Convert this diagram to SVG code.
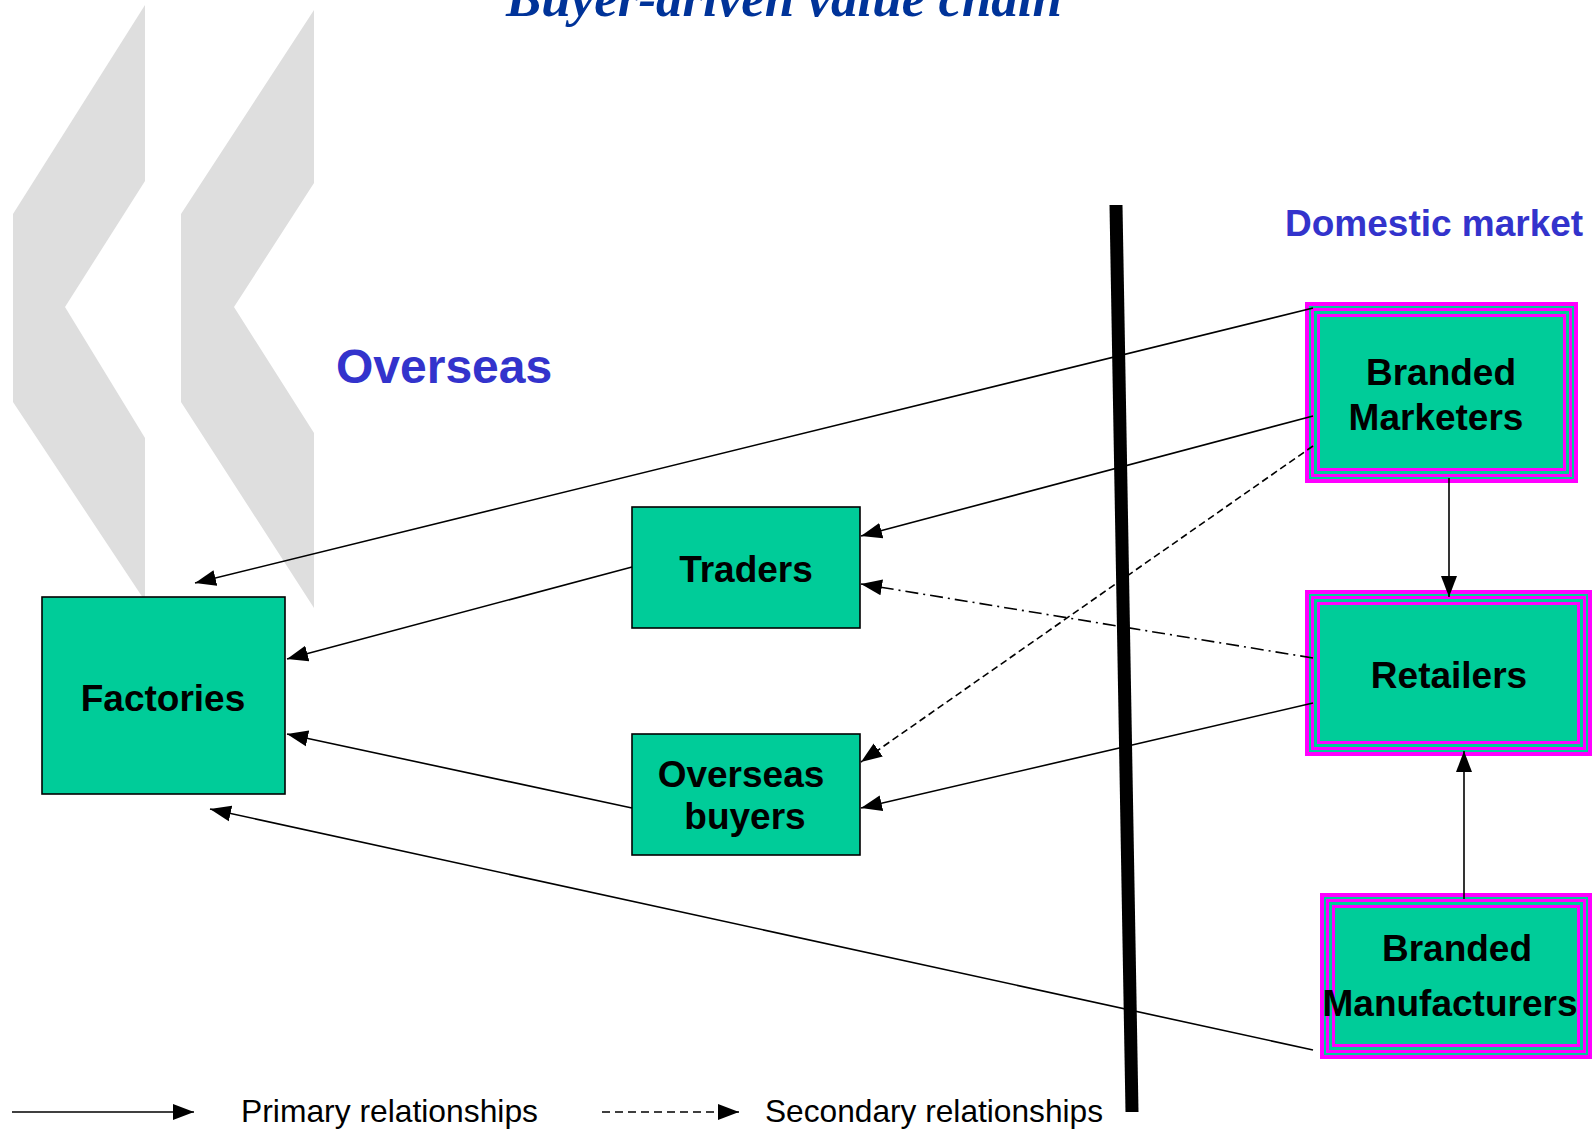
<svg xmlns="http://www.w3.org/2000/svg" width="1596" height="1132" viewBox="0 0 1596 1132">
<defs>
<style>
.node{fill:#00CC99;stroke:#000;stroke-width:1.6}
.lbl{font-family:"Liberation Sans",Arial,sans-serif;font-weight:bold;font-size:37px;fill:#000;text-anchor:middle}
.conn{stroke:#000;stroke-width:1.6;fill:none}
.dash{stroke-dasharray:7 4}
.dashdot{stroke-dasharray:13 5 2 5}
.mag{fill:#FF00FF}
.tea{fill:#00CC99}
.leg{font-family:"Liberation Sans",Arial,sans-serif;font-size:32px;fill:#000}
.blue{font-family:"Liberation Sans",Arial,sans-serif;font-weight:bold;fill:#3333CC}
</style>
<marker id="ah" markerUnits="userSpaceOnUse" markerWidth="22" markerHeight="18" refX="21" refY="8" orient="auto" viewBox="0 0 22 16">
<path d="M0,0 L21,8 L0,16 z" fill="#000"/>
</marker>
</defs>
<rect width="1596" height="1132" fill="#fff"/>

<g id="watermark" fill="#DEDEDE">
<polygon points="145,5 145,181 65,307 145,438 145,601 13,402 13,214"/>
<polygon points="314,10 314,183 234,307 314,433 314,608 181,402 181,214"/>
</g>

<text x="506" y="16" font-family="'Liberation Serif','Times New Roman',serif" font-weight="bold" font-style="italic" font-size="53" fill="#003399" textLength="556" lengthAdjust="spacingAndGlyphs">Buyer-driven value chain</text>

<text class="blue" x="336" y="383" font-size="48">Overseas</text>
<text class="blue" x="1285" y="236" font-size="37">Domestic market</text>

<line id="border-line" x1="1116" y1="205" x2="1132" y2="1112" stroke="#000" stroke-width="13"/>

<g id="factories">
<rect class="node" x="42" y="597" width="243" height="197"/>
<text class="lbl" x="163" y="711">Factories</text>
</g>

<g id="traders">
<rect class="node" x="632" y="507" width="228" height="121"/>
<text class="lbl" x="746" y="582">Traders</text>
</g>

<g id="overseas-buyers">
<rect class="node" x="632" y="734" width="228" height="121"/>
<text class="lbl" x="741" y="787">Overseas</text>
<text class="lbl" x="745" y="829">buyers</text>
</g>

<g id="branded-marketers">
<rect class="mag" x="1305" y="302" width="273" height="181"/>
<rect class="tea" x="1309" y="306" width="265" height="173"/>
<rect class="mag" x="1311" y="308" width="261" height="169"/>
<rect class="tea" x="1314" y="311" width="255" height="163"/>
<rect class="mag" x="1317" y="314" width="249" height="157"/>
<rect class="tea" x="1320" y="317" width="243" height="151"/>
<text class="lbl" x="1441" y="385">Branded</text>
<text class="lbl" x="1436" y="430">Marketers</text>
</g>

<g id="retailers">
<rect class="mag" x="1305" y="590" width="287" height="166"/>
<rect class="tea" x="1309" y="594" width="279" height="158"/>
<rect class="mag" x="1311" y="596" width="275" height="154"/>
<rect class="tea" x="1314" y="599" width="269" height="148"/>
<rect class="mag" x="1317" y="602" width="263" height="142"/>
<rect class="tea" x="1320" y="605" width="257" height="136"/>
<text class="lbl" x="1449" y="688">Retailers</text>
</g>

<g id="branded-manufacturers">
<rect class="mag" x="1320" y="893" width="272" height="166"/>
<rect class="tea" x="1324" y="897" width="264" height="158"/>
<rect class="mag" x="1326" y="899" width="260" height="154"/>
<rect class="tea" x="1329" y="902" width="254" height="148"/>
<rect class="mag" x="1332" y="905" width="248" height="142"/>
<rect class="tea" x="1335" y="908" width="242" height="136"/>
<text class="lbl" x="1457" y="961">Branded</text>
<text class="lbl" x="1450" y="1016">Manufacturers</text>
</g>

<g id="connectors">
<line class="conn" x1="1313" y1="308" x2="195" y2="583" marker-end="url(#ah)"/>
<line class="conn" x1="1313" y1="416" x2="861" y2="536" marker-end="url(#ah)"/>
<line class="conn dash" x1="1313" y1="446" x2="861" y2="762" marker-end="url(#ah)"/>
<line class="conn" x1="1449" y1="478" x2="1449" y2="597" marker-end="url(#ah)"/>
<line class="conn dashdot" x1="1313" y1="658" x2="861" y2="584" marker-end="url(#ah)"/>
<line class="conn" x1="1313" y1="703" x2="861" y2="808" marker-end="url(#ah)"/>
<line class="conn" x1="1464" y1="899" x2="1464" y2="751" marker-end="url(#ah)"/>
<line class="conn" x1="1313" y1="1050" x2="210" y2="809" marker-end="url(#ah)"/>
<line class="conn" x1="632" y1="567" x2="287" y2="659" marker-end="url(#ah)"/>
<line class="conn" x1="632" y1="808" x2="287" y2="734" marker-end="url(#ah)"/>
</g>

<g id="legend">
<line class="conn" x1="12" y1="1112" x2="194" y2="1112" marker-end="url(#ah)"/>
<text class="leg" x="241" y="1122" textLength="297" lengthAdjust="spacingAndGlyphs">Primary relationships</text>
<line class="conn" x1="602" y1="1112" x2="739" y2="1112" stroke-dasharray="8 5" marker-end="url(#ah)"/>
<text class="leg" x="765" y="1122" textLength="338" lengthAdjust="spacingAndGlyphs">Secondary relationships</text>
</g>
</svg>
